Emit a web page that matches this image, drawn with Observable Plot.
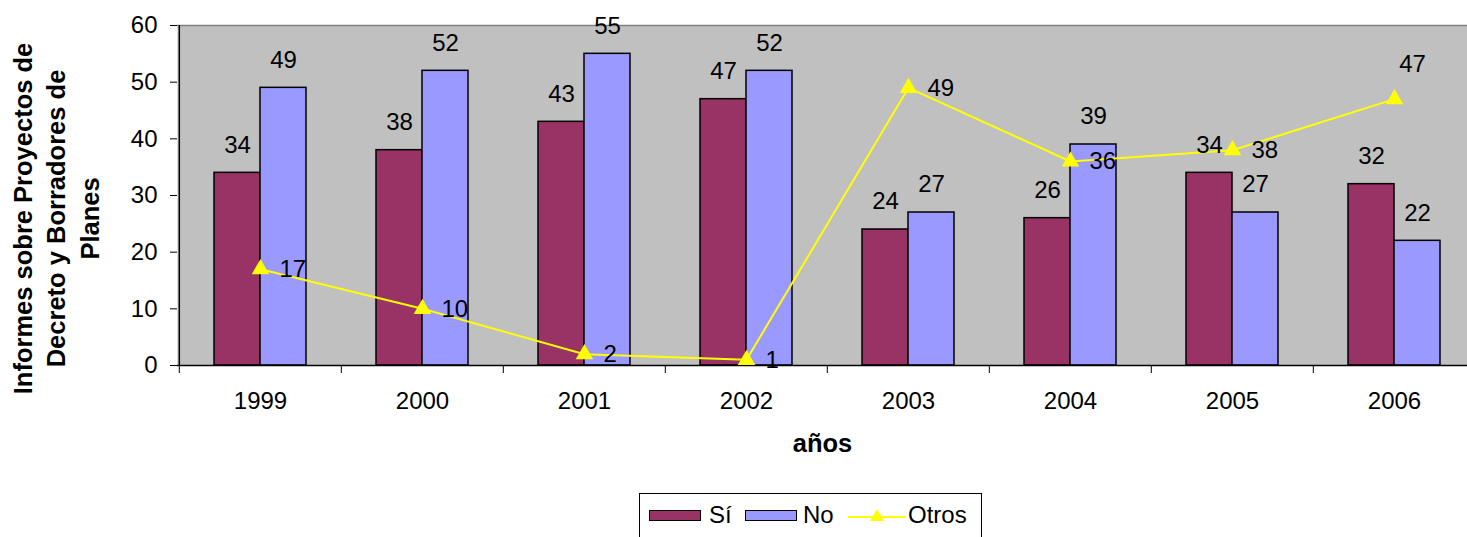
<!DOCTYPE html>
<html>
<head>
<meta charset="utf-8">
<script src="https://cdn.jsdelivr.net/npm/d3@7"></script>
<script src="https://cdn.jsdelivr.net/npm/@observablehq/plot@0.6"></script>
<style>
  html, body { margin: 0; padding: 0; background: white; overflow: hidden; }
  body { position: relative; width: 1467px; height: 537px; font-family: "Liberation Sans", Arial, sans-serif; }
  #legend { position: absolute; left: 639px; top: 493px; width: 343px; height: 60px; border: 1px solid #000; box-sizing: border-box; }
  #legend .item { position: absolute; top: 0; height: 42px; display: flex; align-items: center; font-size: 24px; }
  .sw { width: 50px; height: 9px; border: 1.5px solid #000; }
</style>
</head>
<body>
<div id="chart"></div>
<div id="legend">
  <div class="item" style="left:9px"><div class="sw" style="background:#993366"></div><span style="margin-left:8px">Sí</span></div>
  <div class="item" style="left:105px"><div class="sw" style="background:#9999FF"></div><span style="margin-left:6px">No</span></div>
  <div class="item" style="left:208px"><svg width="58" height="20"><line x1="0" y1="12" x2="58" y2="12" stroke="#FFFF00" stroke-width="2"/><path d="M29,4 L36,16 L22,16 Z" fill="#FFFF00"/></svg><span style="margin-left:2px">Otros</span></div>
</div>
<script>
const years = ["1999", "2000", "2001", "2002", "2003", "2004", "2005", "2006"];
const si = [34, 38, 43, 47, 24, 26, 34, 32];
const no = [49, 52, 55, 52, 27, 39, 27, 22];
const otros = [17, 10, 2, 1, 49, 36, 38, 47];
const yTicks = [0, 10, 20, 30, 40, 50, 60];
const yTitle = "Informes sobre Proyectos de\nDecreto y Borradores de\nPlanes";
const xTitle = "años";

const rows = years.map((y, i) => ({year: y, si: si[i], no: no[i], otros: otros[i]}));
const lastYear = years[years.length - 1];

const W = 1467, H = 490, mTop = 25, mBottom = 125, mLeft = 177;
const xRange = [177, 1476];
const step = (xRange[1] - xRange[0]) / years.length;
const pad = 0.4335;
const bw = step * (1 - pad);
const half = bw / 2;
const frameH = H - mTop - mBottom;

const chart = Plot.plot({
  width: W,
  height: H,
  marginTop: mTop,
  marginBottom: mBottom,
  marginLeft: mLeft,
  marginRight: 0,
  style: {fontFamily: "'Liberation Sans', Arial, sans-serif", fontSize: "24px", color: "#000", background: "white"},
  x: {type: "band", domain: years, range: xRange, paddingInner: pad, paddingOuter: pad / 2, align: 0.5},
  y: {domain: [0, 60], range: [H - mBottom, mTop]},
  marks: [
    Plot.frame({fill: "#C0C0C0", stroke: null}),
    Plot.ruleY([60], {stroke: "#808080", strokeWidth: 1.5}),
    Plot.barY(rows, {x: "year", y: "si", fill: "#993366", stroke: "#000", strokeWidth: 1.5, insetRight: half}),
    Plot.barY(rows, {x: "year", y: "no", fill: "#9999FF", stroke: "#000", strokeWidth: 1.5, insetLeft: half}),
    Plot.ruleY([0], {stroke: "#000", strokeWidth: 1.5}),
    Plot.ruleX([years[0]], {x: d => d, dx: -step / 2, stroke: "#000", strokeWidth: 1.5}),
    Plot.ruleX(years, {x: d => d, dx: -step / 2, stroke: "#000", strokeWidth: 1, insetTop: frameH, insetBottom: -8}),
    Plot.line(rows, {x: "year", y: "otros", stroke: "#FFFF00", strokeWidth: 2}),
    Plot.dot(rows, {x: "year", y: "otros", symbol: "triangle", fill: "#FFFF00", stroke: null, r: 6.5}),
    Plot.text(rows, {x: "year", y: "si", text: d => String(d.si), dx: -half / 2, dy: -28, fill: "#000"}),
    Plot.text(rows, {x: "year", y: "no", text: d => String(d.no), dx: half / 2, dy: -28, fill: "#000"}),
    Plot.text(rows.filter(d => d.year !== lastYear), {x: "year", y: "otros", text: d => String(d.otros), textAnchor: "start", dx: 19, fill: "#000"}),
    Plot.text(rows.filter(d => d.year === lastYear), {x: "year", y: "otros", text: d => String(d.otros), dx: 18, dy: -35, fill: "#000"}),
    Plot.axisY({ticks: yTicks, tickSize: 7, tickPadding: 13, label: null, stroke: "#000"}),
    Plot.axisX({tickSize: 0, tickPadding: 26, label: null}),
    Plot.text([yTitle], {frameAnchor: "left", textAnchor: "middle", rotate: -90, dx: -123, dy: 23, fontWeight: "bold", fontSize: 25.5, lineHeight: 1.31, fill: "#000"}),
    Plot.text([xTitle], {frameAnchor: "bottom", dy: 86, fontWeight: "bold", fontSize: 25.5, fill: "#000"})
  ]
});
document.getElementById("chart").appendChild(chart);
</script>
</body>
</html>
